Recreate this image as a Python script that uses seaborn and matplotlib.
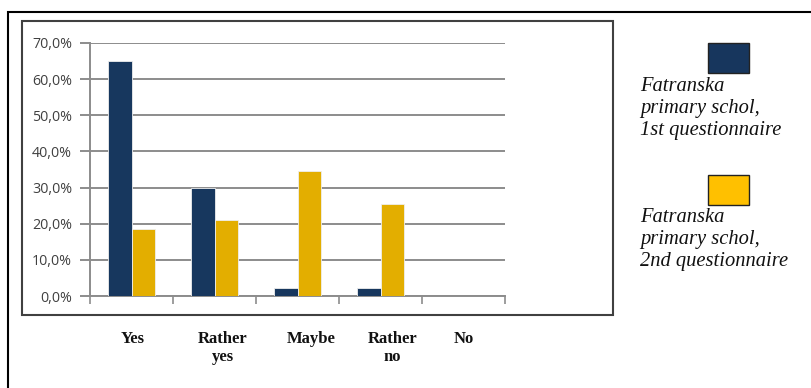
import matplotlib
matplotlib.use("Agg")
import matplotlib.pyplot as plt
import matplotlib.transforms as mtransforms
from matplotlib.patches import Rectangle
from matplotlib.ticker import FuncFormatter, MultipleLocator
import seaborn as sns
import pandas as pd

# data
categories = ["Yes", "Rather\nyes", "Maybe", "Rather\nno", "No"]
first_q = [65.0, 30.0, 2.3, 2.3, 0.0]
second_q = [18.4, 21.0, 34.6, 25.4, 0.0]
series_names = ["Fatranska\nprimary schol,\n1st questionnaire",
                "Fatranska\nprimary schol,\n2nd questionnaire"]
# small shifts of the category labels, as in the source document
label_shift = [0.01, 0.10, 0.16, 0.14, 0.0]

bar_colors = ["#17375E", "#E3AE00"]
legend_colors = ["#17365D", "#FFC000"]

df = pd.DataFrame({
    "category": categories * 2,
    "series": [series_names[0]] * 5 + [series_names[1]] * 5,
    "value": first_q + second_q,
})

sns.set_style("white")
fig = plt.figure(figsize=(8.11, 3.88), dpi=100)
ax = fig.add_axes([90 / 811, 92 / 388, 415 / 811, 253 / 388])

sns.barplot(data=df, x="category", y="value", hue="series",
            palette=bar_colors, saturation=1, width=0.566, gap=0, legend=False,
            edgecolor="#eeeeee", linewidth=0.6, ax=ax, zorder=3)

ax.set_xlim(-0.5, 4.5)
ax.set_ylim(0, 70)
ax.yaxis.set_major_locator(MultipleLocator(10))
ax.yaxis.set_major_formatter(FuncFormatter(lambda v, p: f"{v:.1f}%".replace(".", ",")))
ax.grid(axis="y", color="#8c8c8c", linewidth=1.4, zorder=0)
ax.set_axisbelow(True)

ax.set_xticks([i - 0.5 for i in range(6)])
ax.set_xticklabels([])
ax.tick_params(axis="x", direction="out", length=6, width=1.2, color="#8c8c8c", bottom=True)
ax.tick_params(axis="y", direction="out", length=7, width=1.4, color="#8c8c8c", left=True,
               pad=6, labelsize=10.3, labelcolor="#404040")
for lab in ax.get_yticklabels():
    lab.set_family("Open Sans")
for s in ["top", "right"]:
    ax.spines[s].set_visible(False)
for s in ["left", "bottom"]:
    ax.spines[s].set_color("#8c8c8c")
    ax.spines[s].set_linewidth(1.4)
ax.set_xlabel("")
ax.set_ylabel("")

# category labels below the chart frame
trans = mtransforms.blended_transform_factory(ax.transData, fig.transFigure)
for i, lab in enumerate(categories):
    ax.text(i + label_shift[i], 1 - 331 / 388, lab, transform=trans, ha="center", va="top",
            family="Liberation Serif", fontweight="bold", fontsize=12,
            linespacing=1.2, color="#111111")

# outer and inner frames
fig.add_artist(Rectangle((8 / 811, -0.2), 1.2, 1.2 - 12 / 388, transform=fig.transFigure,
                         fill=False, edgecolor="black", linewidth=1.5))
fig.add_artist(Rectangle((22 / 811, 1 - 315 / 388), (613 - 22) / 811, (315 - 21) / 388,
                         transform=fig.transFigure, fill=False, edgecolor="#404040",
                         linewidth=1.5))

# legend
for name, col, top_key, top_txt in zip(series_names, legend_colors, [43, 175], [77, 208]):
    fig.add_artist(Rectangle((708 / 811, 1 - (top_key + 30) / 388), 41 / 811, 30 / 388,
                             transform=fig.transFigure, facecolor=col,
                             edgecolor="#222222", linewidth=1.0))
    fig.text(640 / 811, 1 - top_txt / 388, name, ha="left", va="top",
             family="Liberation Serif", style="italic", fontsize=14.8,
             linespacing=1.22, color="#111111")

fig.savefig("out.png", dpi=100)
